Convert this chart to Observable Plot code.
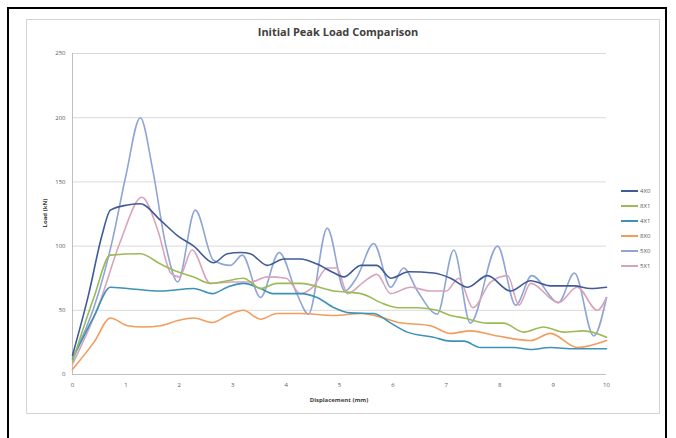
<!DOCTYPE html>
<html><head><meta charset="utf-8">
<script src="https://cdn.jsdelivr.net/npm/d3@7"></script>
<script src="https://cdn.jsdelivr.net/npm/@observablehq/plot@0.6"></script>
<style>
html,body{margin:0;padding:0;background:#fff}
body{width:676px;height:438px;overflow:hidden;position:relative;font-family:"Open Sans",sans-serif}
#frame{position:absolute;left:7px;top:7px;width:660px;height:445px;border:2px solid #000;border-bottom:none;box-sizing:border-box}
#box{position:absolute;left:26px;top:19px;width:634px;height:395px;border:1px solid #d4d4d4;box-sizing:border-box}
#title{position:absolute;left:0;width:676px;top:24px;text-align:center;font-size:11px;font-weight:bold;color:#404040}
#chart{position:absolute;left:0;top:0}
#ylab{position:absolute;left:45px;top:213px;transform:translate(-50%,-50%) rotate(-90deg);font-size:6px;font-weight:bold;color:#404040;white-space:nowrap}
#xlab{position:absolute;left:339px;top:400px;transform:translate(-50%,-50%);font-size:6px;font-weight:bold;color:#404040;white-space:nowrap}
.leg{position:absolute;left:621px;height:10px;font-size:6px;color:#595959;white-space:nowrap}
.leg span.ln{position:absolute;left:0;top:4px;width:17px;height:2px}
.leg span.tx{position:absolute;left:19px;top:0;line-height:10px}
</style>
</head><body>
<div id="frame"></div>
<div id="box"></div>
<div id="title">Initial Peak Load Comparison</div>
<div id="ylab">Load (kN)</div>
<div id="xlab">Displacement (mm)</div>
<div id="chart"></div>
<div id="legend"></div>
<script>
const seriesNames = ["4X0", "8X1", "4X1", "8X0", "5X0", "5X1"];
const seriesColors = ["#3F5B98", "#9BBB59", "#3E92B8", "#F29C5E", "#8FA5D6", "#D9A4BA"];
const xTicks = [0, 1, 2, 3, 4, 5, 6, 7, 8, 9, 10];
const yTicks = [0, 50, 100, 150, 200, 250];

const x4X0 = [0, 0.3, 0.55, 0.71, 1.03, 1.27, 1.65, 1.97, 2.27, 2.64, 2.9, 3.15, 3.33, 3.65, 3.96, 4.27, 4.58, 4.9, 5.08, 5.4, 5.7, 5.96, 6.3, 6.76, 7.08, 7.4, 7.77, 8.2, 8.58, 8.95, 9.4, 9.7, 10];
const y4X0 = [15, 62, 108, 128, 132, 133, 120, 108, 100, 87, 94, 95, 94, 85, 90, 90, 86, 79, 76, 85, 85, 75, 80, 79, 75, 68, 77, 65, 73, 69, 69, 67, 68];

const x8X1 = [0, 0.4, 0.71, 1.27, 1.65, 1.97, 2.27, 2.58, 2.9, 3.2, 3.52, 3.83, 4.27, 4.9, 5.4, 5.83, 6.1, 6.46, 6.83, 7.08, 7.33, 7.77, 8.07, 8.45, 8.82, 9.2, 9.57, 10];
const y8X1 = [10, 60, 93, 94, 86, 80, 76, 71, 73, 75, 67, 71, 71, 65, 63, 55, 52, 52, 50, 46, 44, 40, 40, 33, 37, 33, 34, 29];

const x4X1 = [0, 0.4, 0.71, 1.03, 1.65, 2.27, 2.62, 2.9, 3.2, 3.52, 3.75, 4.27, 4.58, 4.9, 5.2, 5.64, 5.96, 6.27, 6.76, 7.08, 7.33, 7.64, 8.26, 8.58, 8.95, 9.4, 10];
const y4X1 = [12, 45, 68, 67, 65, 67, 63, 68, 71, 67, 63, 63, 60, 52, 48, 47.5, 40, 33, 29, 26, 26, 21, 21, 19.5, 21, 20, 20];

const x8X0 = [0, 0.4, 0.71, 1.03, 1.33, 1.65, 1.97, 2.27, 2.62, 2.9, 3.2, 3.52, 3.83, 4.27, 4.9, 5.4, 5.83, 6.1, 6.33, 6.7, 7.08, 7.45, 7.96, 8.58, 8.95, 9.45, 10];
const y8X0 = [4, 25, 44, 38, 37, 38, 42, 44, 40.5, 46, 50, 43, 47.5, 47.5, 46, 47.5, 44, 40.5, 39.5, 38, 32, 34, 30, 26.5, 32, 21, 26.5];

const x5X0 = [0, 0.5, 0.75, 1.0, 1.27, 1.5, 1.75, 1.97, 2.3, 2.64, 2.96, 3.18, 3.52, 3.87, 4.2, 4.42, 4.77, 5.1, 5.33, 5.64, 5.96, 6.2, 6.46, 6.83, 7.14, 7.45, 7.96, 8.3, 8.6, 9.1, 9.4, 9.76, 10];
const y5X0 = [13, 65, 105, 155, 200, 160, 100, 72, 128, 89, 85, 93, 60, 95, 63, 47, 114, 65, 76, 102, 68, 83, 65, 47, 97, 40, 100, 54, 77, 56, 79, 30, 60];

const x5X1 = [0, 0.5, 0.9, 1.3, 1.6, 1.84, 2.0, 2.24, 2.58, 3.0, 3.33, 3.65, 4.0, 4.27, 4.5, 4.77, 4.95, 5.15, 5.45, 5.7, 5.96, 6.33, 6.7, 7.0, 7.23, 7.5, 7.83, 8.15, 8.36, 8.58, 9.1, 9.45, 9.83, 10];
const y5X1 = [8, 55, 104, 138, 112, 79, 76, 97, 71, 72, 72, 76, 75, 63, 68, 83, 83, 63, 72, 78, 63, 68, 65, 65, 75, 52, 72, 77, 54, 71, 56, 68, 50, 60];

const seriesX = [x4X0, x8X1, x4X1, x8X0, x5X0, x5X1];
const seriesY = [y4X0, y8X1, y4X1, y8X0, y5X0, y5X1];

const rows = [];
seriesNames.forEach((name, i) => {
  seriesX[i].forEach((xv, j) => rows.push({series: name, x: xv, y: seriesY[i][j]}));
});

// draw order (back to front)
const drawOrder = ["5X0", "5X1", "8X0", "4X1", "8X1", "4X0"];

const chart = Plot.plot({
  width: 676,
  height: 438,
  marginLeft: 72,
  marginRight: 70,
  marginTop: 53,
  marginBottom: 64,
  x: {domain: [0, 10]},
  y: {domain: [0, 250]},
  color: {domain: seriesNames, range: seriesColors},
  style: {background: "transparent", fontFamily: "Open Sans, sans-serif", fontSize: "6px", color: "#595959"},
  marks: [
    Plot.ruleY(yTicks, {stroke: "#d9d9d9", strokeWidth: 1}),
    Plot.ruleX([0], {stroke: "#bfbfbf", strokeWidth: 1}),
    Plot.ruleY([0], {stroke: "#bfbfbf", strokeWidth: 1}),
    Plot.axisY({ticks: yTicks, tickSize: 0, tickPadding: 7, label: null, fill: "#595959"}),
    Plot.axisX({ticks: xTicks, tickSize: 0, tickPadding: 8, label: null, fill: "#595959"}),
    ...drawOrder.map(name => Plot.line(rows.filter(d => d.series === name), {
      x: "x", y: "y", stroke: "series", strokeWidth: 1.6, curve: "monotone-x"
    }))
  ]
});
document.getElementById("chart").appendChild(chart);

const legTop = [186, 201, 216, 231, 246, 261];
const legend = document.getElementById("legend");
seriesNames.forEach((name, i) => {
  const d = document.createElement("div");
  d.className = "leg";
  d.style.top = legTop[i] + "px";
  const ln = document.createElement("span");
  ln.className = "ln";
  ln.style.background = seriesColors[i];
  const tx = document.createElement("span");
  tx.className = "tx";
  tx.textContent = name;
  d.appendChild(ln); d.appendChild(tx);
  legend.appendChild(d);
});
</script>
</body></html>
